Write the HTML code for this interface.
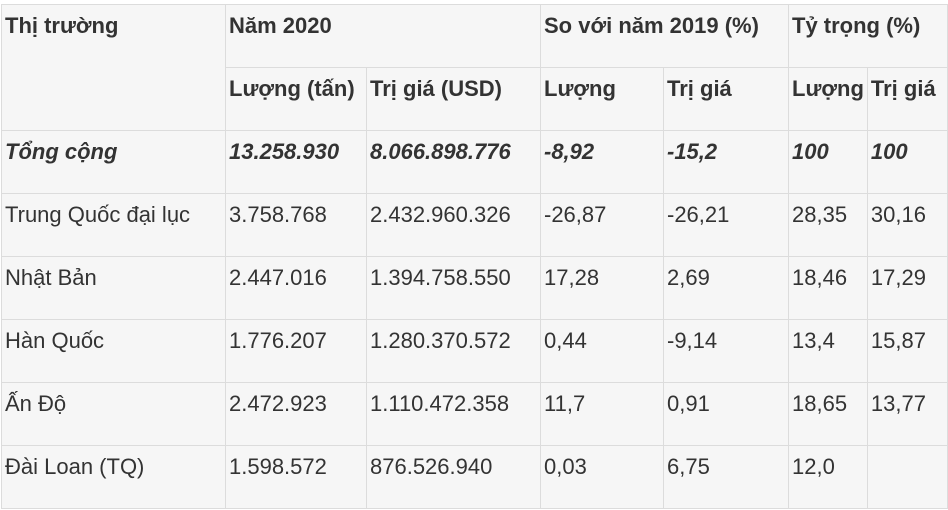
<!DOCTYPE html>
<html><head><meta charset="utf-8"><style>
body{margin:0;background:#fff;width:948px;height:510px;overflow:hidden;font-family:"Liberation Sans",sans-serif;}
table{position:absolute;left:1px;top:4px;border-collapse:collapse;table-layout:fixed;background:#f6f6f6;color:#333;font-size:22px;}
td{border:1px solid #dcdcdc;height:56px;padding:6px 3px 0 3px;vertical-align:top;line-height:30px;white-space:nowrap;overflow:hidden;}
.h{font-weight:bold;}
.i{font-style:italic;}
</style></head><body>
<table>
<colgroup><col style="width:224px"><col style="width:141px"><col style="width:174px"><col style="width:123px"><col style="width:125px"><col style="width:78px"><col style="width:80px"></colgroup>
<tr><td class="h" rowspan="2">Thị trường</td><td class="h" colspan="2">Năm 2020</td><td class="h" colspan="2">So với năm 2019 (%)</td><td class="h" colspan="2">Tỷ trọng (%)</td></tr>
<tr><td class="h">Lượng (tấn)</td><td class="h">Trị giá (USD)</td><td class="h">Lượng</td><td class="h">Trị giá</td><td class="h">Lượng</td><td class="h">Trị giá</td></tr>
<tr class="h i"><td>Tổng cộng</td><td>13.258.930</td><td>8.066.898.776</td><td>-8,92</td><td>-15,2</td><td>100</td><td>100</td></tr>
<tr><td>Trung Quốc đại lục</td><td>3.758.768</td><td>2.432.960.326</td><td>-26,87</td><td>-26,21</td><td>28,35</td><td>30,16</td></tr>
<tr><td>Nhật Bản</td><td>2.447.016</td><td>1.394.758.550</td><td>17,28</td><td>2,69</td><td>18,46</td><td>17,29</td></tr>
<tr><td>Hàn Quốc</td><td>1.776.207</td><td>1.280.370.572</td><td>0,44</td><td>-9,14</td><td>13,4</td><td>15,87</td></tr>
<tr><td>Ấn Độ</td><td>2.472.923</td><td>1.110.472.358</td><td>11,7</td><td>0,91</td><td>18,65</td><td>13,77</td></tr>
<tr><td>Đài Loan (TQ)</td><td>1.598.572</td><td>876.526.940</td><td>0,03</td><td>6,75</td><td>12,0</td><td></td></tr>
</table>
</body></html>
